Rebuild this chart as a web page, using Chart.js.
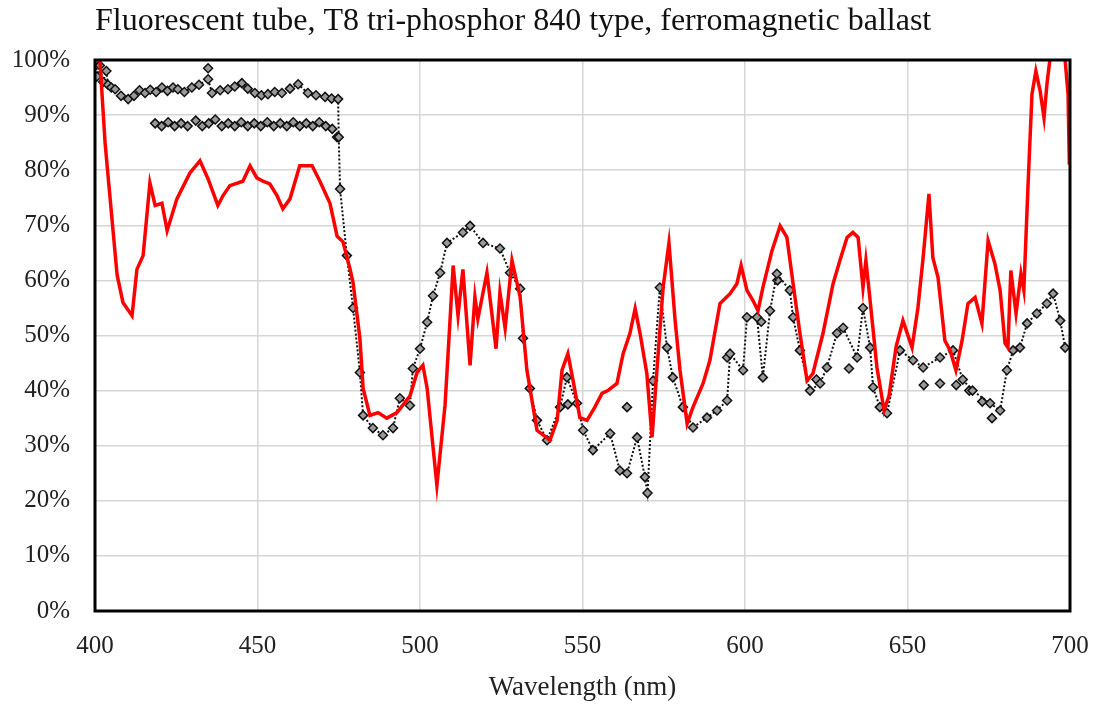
<!DOCTYPE html>
<html>
<head>
<meta charset="utf-8">
<script src="https://cdn.jsdelivr.net/npm/chart.js@4/dist/chart.umd.min.js"></script>
<style>
  html, body { margin: 0; padding: 0; background: #fff; }
  #wrap { width: 1094px; height: 704px; }
</style>
</head>
<body>
<div id="wrap"><canvas id="c" width="1094" height="704"></canvas></div>
<script>
// ---- data ----
const titleText = 'Fluorescent tube, T8 tri-phosphor 840 type, ferromagnetic ballast';
const xAxisTitle = 'Wavelength (nm)';
const xTicks = [400, 450, 500, 550, 600, 650, 700];
const yTicks = [0, 10, 20, 30, 40, 50, 60, 70, 80, 90, 100];

const redWavelength = [400.5,401.5,403.1,403.7,406.8,408.6,411.4,412.9,414.8,416.9,418.5,420.6,422.2,425.2,429.2,432.3,434.8,437.8,439.4,441.5,445.5,447.7,449.8,451.7,453.8,456,457.8,460,463,466.8,469.2,472.3,474.5,476.3,478.5,479.4,481.5,482.5,484.6,487.1,489.8,492.9,496.9,499.1,500.9,502.2,505.2,507.7,509.2,510.2,511.7,513.2,515.4,516.9,517.8,520.6,523.4,524.6,526.2,528.3,530.8,532.9,536,540,542.2,543.7,545.5,547.1,549.2,551.4,553.8,556,557.8,560.6,562.5,564.6,566.2,567.7,569.8,571.4,572.9,574.8,576.6,578.5,580,582.2,584,587.1,589.2,592.3,595.4,597.5,598.8,600.6,602.5,604,605.5,608.3,610.8,612.9,614.8,616.9,619.1,620.9,624,627.1,629.2,631.4,633.2,634.8,636.3,637.2,638.5,640.6,642.8,644.3,646.5,648.6,651.4,653.2,654.8,656.6,657.8,659.4,661.5,663.1,664.9,666.8,668.6,670.8,672.9,674.8,676.9,678.5,680,680.9,681.8,683.4,684.9,685.8,687.1,688.3,689.5,690.8,692,692.9,693.8,695,697.5,698.5,699.4,699.8];
const redPercent = [102,100,85,81,61,56,53.6,62,64.5,77.7,73.6,74,69,74.8,79.5,81.7,78.4,73.6,75.4,77.2,78,80.8,78.6,78,77.5,75.4,73,74.8,80.8,80.8,78,74,68,67,62,59.6,49.5,40.4,35.5,36,35,36,39,43.3,44.6,40.4,22.8,37.3,52.4,62.7,53.6,62,44.6,57,53,61.4,47.6,57.8,51.3,63.6,57,43.7,32.8,31,34.6,43.7,46.7,41.8,35.1,34.6,37,39.5,40,41.3,46.7,50.4,54.9,50.4,43.1,31.5,43.7,58.7,66.8,52.7,43.7,34,37,41.3,45.5,55.8,57.6,59.4,62.7,58.2,56.3,54.5,58.7,65.4,69.9,67.8,59.4,50.4,41.8,43.1,50.4,59.4,63.6,67.8,68.7,67.8,58.7,63.6,56.3,44.2,36.4,39,48,52.7,47.8,55,64.1,75.7,64.1,60.5,49.1,47.3,43.7,49.1,55.8,56.9,52.2,67.2,63,58.2,48.6,47.8,61.8,54,61.2,58.2,77.5,93.8,98,94.4,89.5,95.6,100,104,104,100,93.8,81];

const blackWavelength = [400.3,400.6,401.5,402.5,403.5,404,405,406.2,408,410.2,412,413.7,415.4,417,418.8,420.6,422.3,424,425.5,427.5,429.8,432,434.8,436,438.5,440.9,443,445.2,447,449.2,451.2,453.2,455.3,457.5,460,462.5,465.5,468,470.8,472.8,474.8,475,475.4,477.5,479.4,481.5,482.5,485.5,488.6,491.7,493.8,496.9,497.8,500,502.2,504,506.2,508.3,513.2,515.4,519.4,524.6,527.7,530.8,531.7,533.8,536,539.1,543.1,545.2,548.3,550.2,553.2,558.5,561.5,563.7,566.8,569.2,570,571.7,573.8,576,577.8,580.9,584,588.3,591.4,594.5,595.4,599.4,600.6,603.7,605.5,607.7,609.8,613.8,614.8,616.9,620,623.1,625.2,628.3,630.2,634.5,636.3,638.5,639.4,641.5,643.7,647.7,651.7,654.8,660,664,667,670,675.4,678.5,680.6,682.5,684.6,686.8,689.8,692.9,694.8,697,698.5];
const blackPercent = [100,97,99,96,98,95.5,95,94.7,93.5,92.9,93.5,94.5,94,94.6,94.2,95,94.4,95,94.7,94.2,95,95.5,96.5,94,94.5,94.7,95.2,95.8,94.8,94,93.6,93.8,94.2,94,94.8,95.6,94,93.6,93.3,93,92.9,86,76.6,64.5,55,43.3,35.5,33.2,31.9,33.2,38.6,37.3,44,47.6,52.4,57.2,61.4,66.8,68.7,69.9,66.8,65.8,61.4,58.5,49.5,40.4,34.6,31,37,42.4,37.7,32.8,29.2,32.2,25.5,25,31.5,24.3,21.4,41.8,58.7,47.8,42.4,37,33.3,35.1,36.4,38.2,46.7,43.7,53.3,53.3,42.4,54.5,61.2,58.2,53.3,47.3,40,41.3,44.2,50.4,51.4,46,55,47.8,40.6,37,35.9,47.3,45.5,44.2,46,47.3,42,40,37.7,36.4,43.7,47.3,47.8,52.2,54,55.8,57.6,52.7,47.8];

const blackExtraWavelength = [418.5,420.5,422.5,424.5,426.5,428.5,431,433,435,437,439,441,443,445,447,449,451,453,455,457,459,461,463,465,467,469,471,473,474.5,434.8,545.5,563.7,594.5,605,610,622,632,655,660,665,669,673,676];
const blackExtraPercent = [88.5,88,88.7,88,88.5,88,89,88,88.5,89.2,88,88.5,88,88.7,88,88.5,88,88.7,88,88.5,88,88.7,88,88.5,88,88.7,88,87.5,86,98.5,37.5,37,46,52.5,60,42,44,41,41.3,41,40,38,35];

// ---- build chart ----
const toPoints = (xs, ys) => xs.map((x, i) => ({ x: x, y: ys[i] }));
const serif = "'Liberation Serif', 'Times New Roman', serif";

const frame = {
  id: 'frame',
  afterDatasetsDraw(chart) {
    const a = chart.chartArea, ctx = chart.ctx;
    ctx.save();
    ctx.strokeStyle = '#000';
    ctx.lineWidth = 3;
    ctx.strokeRect(a.left, a.top, a.right - a.left, a.bottom - a.top);
    ctx.restore();
  }
};

new Chart(document.getElementById('c'), {
  type: 'line',
  data: {
    datasets: [
      {
        label: 'red',
        data: toPoints(redWavelength, redPercent),
        borderColor: '#ff0000',
        borderWidth: 3.5,
        pointRadius: 0,
        tension: 0,
        order: 0
      },
      {
        label: 'black',
        data: toPoints(blackWavelength, blackPercent),
        borderColor: '#111',
        borderWidth: 2,
        borderDash: [2, 2],
        pointStyle: 'rectRot',
        pointRadius: 4.5,
        pointBackgroundColor: '#999',
        pointBorderColor: '#111',
        pointBorderWidth: 1.5,
        tension: 0,
        order: 1
      },
      {
        label: 'black extra',
        data: toPoints(blackExtraWavelength, blackExtraPercent),
        showLine: false,
        pointStyle: 'rectRot',
        pointRadius: 4.5,
        pointBackgroundColor: '#999',
        pointBorderColor: '#111',
        pointBorderWidth: 1.5,
        order: 2
      }
    ]
  },
  options: {
    responsive: false,
    animation: false,
    layout: { padding: { left: 0, right: 24, top: 0, bottom: 0 } },
    plugins: {
      legend: { display: false },
      tooltip: { enabled: false },
      title: {
        display: true,
        text: titleText,
        align: 'start',
        fullSize: false,
        color: '#111',
        font: { family: serif, size: 32, weight: 'normal' },
        padding: { top: 2, bottom: 19.6 }
      }
    },
    scales: {
      x: {
        type: 'linear',
        min: 400,
        max: 700,
        afterBuildTicks: (s) => { s.ticks = xTicks.map(v => ({ value: v })); },
        afterFit: (s) => { s.height = 93; s.paddingLeft = 0; s.paddingRight = 0; },
        grid: { color: '#d6d6d6', lineWidth: 1.5, drawTicks: false },
        border: { display: false },
        ticks: {
          color: '#222',
          padding: 20,
          maxRotation: 0,
          font: { family: serif, size: 25 }
        },
        title: {
          display: true,
          text: xAxisTitle,
          color: '#222',
          font: { family: serif, size: 27 },
          padding: { top: 0, bottom: 0 }
        }
      },
      y: {
        min: 0,
        max: 100,
        afterBuildTicks: (s) => { s.ticks = yTicks.map(v => ({ value: v })); },
        afterFit: (s) => { s.width = 95; s.paddingTop = 0; s.paddingBottom = 0; },
        grid: { color: '#d6d6d6', lineWidth: 1.5, drawTicks: false },
        border: { display: false },
        ticks: {
          color: '#222',
          padding: 25,
          font: { family: serif, size: 25 },
          callback: (v) => v + '%'
        }
      }
    }
  },
  plugins: [frame]
});
</script>
</body>
</html>
